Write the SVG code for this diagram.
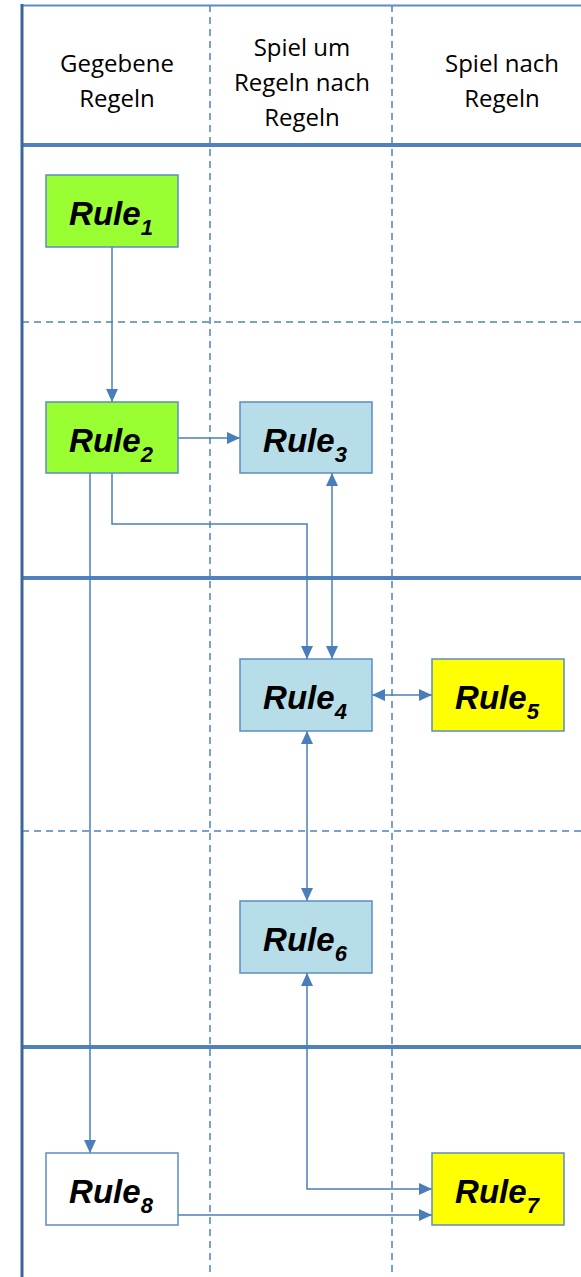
<svg xmlns="http://www.w3.org/2000/svg" width="581" height="1277" viewBox="0 0 581 1277">
<style>
.hdr{font-family:"Open Sans","Liberation Sans",sans-serif;font-size:24px;fill:#000;text-anchor:middle}
.lbl{font-family:"Liberation Sans",Arial,sans-serif;font-size:33px;font-weight:bold;font-style:italic;fill:#000;text-anchor:middle}
.sub{font-size:22px}
.box{stroke:#5b8cc6;stroke-width:1.5}
.g{fill:#99ff33}.b{fill:#b7dde8}.y{fill:#ffff00}.w{fill:#ffffff}
.thick{stroke:#4f81bd;stroke-width:4;fill:none}
.dash{stroke:#4f81bd;stroke-width:1.5;stroke-dasharray:7,5;fill:none}
.c{stroke:#4a7ebb;stroke-width:1.5;fill:none}
</style>
<defs>
<marker id="ah" markerUnits="userSpaceOnUse" markerWidth="13" markerHeight="12" refX="13" refY="6" orient="auto-start-reverse" viewBox="0 0 13 12">
<path d="M0,0 L13,6 L0,12 z" fill="#4a7ebb"/>
</marker>
</defs>
<rect width="581" height="1277" fill="#ffffff"/>
<g id="grid">
<line class="dash" x1="22" y1="322" x2="581" y2="322"/>
<line class="dash" x1="22" y1="831" x2="581" y2="831"/>
<line class="dash" x1="210" y1="5" x2="210" y2="1277"/>
<line class="dash" x1="392" y1="5" x2="392" y2="1277"/>
<line x1="22" y1="5.5" x2="581" y2="5.5" stroke="#5b8cc6" stroke-width="2"/>
<line class="thick" x1="22" y1="145" x2="581" y2="145"/>
<line class="thick" x1="22" y1="578" x2="581" y2="578"/>
<line class="thick" x1="22" y1="1047" x2="581" y2="1047"/>
<line x1="22" y1="4" x2="22" y2="1277" stroke="#3c6699" stroke-width="3"/>
</g>
<g id="headers">
<text class="hdr" x="117" y="72">Gegebene</text>
<text class="hdr" x="117" y="107">Regeln</text>
<text class="hdr" x="302" y="56">Spiel um</text>
<text class="hdr" x="302" y="91">Regeln nach</text>
<text class="hdr" x="302" y="126">Regeln</text>
<text class="hdr" x="502" y="72">Spiel nach</text>
<text class="hdr" x="502" y="107">Regeln</text>
</g>
<g id="connectors">
<path class="c" d="M112,247 V402" marker-end="url(#ah)"/>
<path class="c" d="M178,438 H240" marker-end="url(#ah)"/>
<path class="c" d="M112,473 V524 H307 V659" marker-end="url(#ah)"/>
<path class="c" d="M332,473 V659" marker-start="url(#ah)" marker-end="url(#ah)"/>
<path class="c" d="M372,695 H432" marker-start="url(#ah)" marker-end="url(#ah)"/>
<path class="c" d="M307,731 V901" marker-start="url(#ah)" marker-end="url(#ah)"/>
<path class="c" d="M307,973 V1189 H432" marker-start="url(#ah)" marker-end="url(#ah)"/>
<path class="c" d="M90,473 V1153" marker-end="url(#ah)"/>
<path class="c" d="M178,1215 H432" marker-end="url(#ah)"/>
</g>
<g id="rule1"><rect class="box g" x="46" y="175" width="132" height="72"/><text class="lbl" x="111" y="225">Rule<tspan class="sub" dy="10">1</tspan></text></g>
<g id="rule2"><rect class="box g" x="46" y="402" width="132" height="71"/><text class="lbl" x="111" y="452">Rule<tspan class="sub" dy="10">2</tspan></text></g>
<g id="rule3"><rect class="box b" x="240" y="402" width="132" height="71"/><text class="lbl" x="305" y="452">Rule<tspan class="sub" dy="10">3</tspan></text></g>
<g id="rule4"><rect class="box b" x="240" y="659" width="132" height="72"/><text class="lbl" x="305" y="709">Rule<tspan class="sub" dy="10">4</tspan></text></g>
<g id="rule5"><rect class="box y" x="432" y="659" width="132" height="72"/><text class="lbl" x="497" y="709">Rule<tspan class="sub" dy="10">5</tspan></text></g>
<g id="rule6"><rect class="box b" x="240" y="901" width="132" height="72"/><text class="lbl" x="305" y="951">Rule<tspan class="sub" dy="10">6</tspan></text></g>
<g id="rule7"><rect class="box y" x="432" y="1153" width="132" height="72"/><text class="lbl" x="497" y="1203">Rule<tspan class="sub" dy="10">7</tspan></text></g>
<g id="rule8"><rect class="box w" x="46" y="1153" width="132" height="72"/><text class="lbl" x="111" y="1203">Rule<tspan class="sub" dy="10">8</tspan></text></g>
</svg>
